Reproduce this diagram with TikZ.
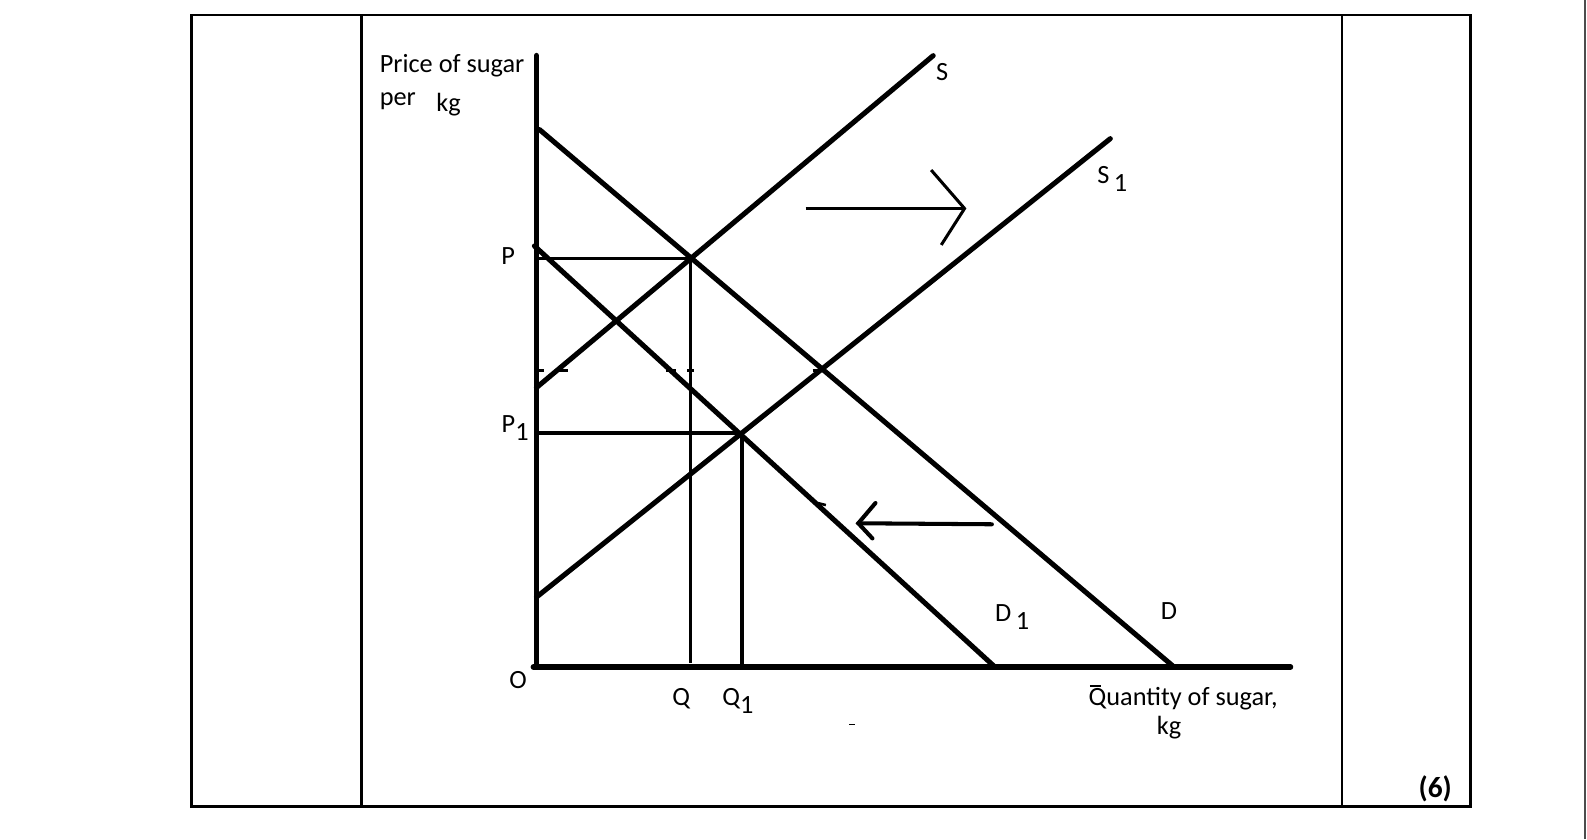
\documentclass[tikz,border=0pt]{standalone}
\usepackage{fontspec}
\setmainfont{Carlito}
\begin{document}
\begin{tikzpicture}[x=1pt,y=-1pt,
  lbl/.style={font=\fontsize{26}{31}\selectfont, inner sep=0pt, anchor=base},
  tbl/.style={line width=2.5pt},
  axis/.style={line width=5.5pt, line cap=round},
  curve/.style={line width=5pt, line cap=round},
  thinl/.style={line width=3pt},
  medl/.style={line width=4pt},
  tick/.style={line width=2.5pt}]
\fill[white] (0,0) rectangle (1568,829);
\useasboundingbox (0,0) rectangle (1568,829);
% table
\draw[tbl] (189,15) rectangle (1453,797);
\draw[tbl] (357,15) -- (357,797);
\draw[tbl] (1326,15) -- (1326,797);
\draw[black!70, line width=2pt] (1566,0) -- (1566,829);
% coordinates
\coordinate (O) at (530,659);
\coordinate (ytop) at (530,55);
\coordinate (xstart) at (527,659);
\coordinate (xend) at (1275,659);
\coordinate (Dtop) at (533,128);
\coordinate (Dbot) at (1160,659);
\coordinate (D1top) at (528,243);
\coordinate (D1bot) at (983,659);
\coordinate (Sbot) at (530,383);
\coordinate (Stop) at (922,55);
\coordinate (S1bot) at (530,590);
\coordinate (S1top) at (1097,137);
\coordinate (E) at (682,255);
\coordinate (E1) at (733,428);
\coordinate (Pax) at (530,255);
\coordinate (Qax) at (682,655);
\coordinate (P1ax) at (530,428);
\coordinate (Q1ax) at (733,662);
% axes
\draw[axis] (ytop) -- (O);
\draw[axis] (xstart) -- (xend);
% curves
\draw[curve] (Dtop) -- (Dbot);
\draw[curve] (D1top) -- (D1bot);
\draw[curve] (Sbot) -- (Stop);
\draw[curve] (S1bot) -- (S1top);
% guides
\draw[thinl] (Pax) -- (E);
\draw[thinl] (E) -- (Qax);
\draw[medl] (P1ax) -- (E1);
\draw[line width=4.5pt] (E1) -- (Q1ax);
% small stubs
\draw[tick] (533,366) -- (537,366);
\draw[tick] (550,366) -- (561,366);
\draw[tick] (658,366) -- (668,366);
\draw[tick] (679,366) -- (686,366);
\draw[tick] (803,366) -- (815,366);
\draw[tick] (808,497) -- (816,499);
\draw[line width=1.5pt] (839,716) -- (845,716);
% shift arrows
\coordinate (ra1) at (796,206);
\coordinate (ra2) at (953,206);
\draw[thinl] (ra1) -- (ra2);
\draw[thinl, line join=miter] (920,168) -- (ra2) -- (930,242);
\coordinate (la1) at (980,518);
\coordinate (la2) at (848,517);
\draw[medl, line cap=round] (la1) -- (la2);
\draw[medl, line cap=round] (865,497) -- (la2) -- (862,532);
% labels
\node[lbl, anchor=base west] (ylab1) at (375,72) {Price of sugar};
\node[lbl, anchor=base west] (ylab2) at (375,104) {per};
\node[lbl, anchor=base west] (ylab3) at (431,110) {kg};
\node[lbl] (lS) at (931,80) {S};
\node[lbl] (lS1) at (1099,181) {S\raisebox{-0.3em}{\,1}};
\node[lbl] (lP) at (502,261) {P};
\node[lbl] (lP1) at (509,427) {P\raisebox{-0.3em}{1}};
\node[lbl] (lO) at (512,680) {O};
\node[lbl] (lQ) at (673,697) {Q};
\node[lbl] (lQ1) at (729,697) {Q\raisebox{-0.3em}{1}};
\node[lbl] (lD1) at (1000,614) {D\raisebox{-0.3em}{\,1}};
\node[lbl] (lD) at (1155,612) {D};
\node[lbl] (lxq) at (1169,697) {\makebox[0pt][l]{\hspace{0.05em}\raisebox{0.72em}{\rule{0.4em}{0.05em}}}Quantity of sugar,};
\node[lbl] (lxkg) at (1155,726) {kg};
\node[lbl, font=\fontsize{29}{34}\selectfont\bfseries] (lsix) at (1418,788) {(6)};
\end{tikzpicture}
\end{document}
